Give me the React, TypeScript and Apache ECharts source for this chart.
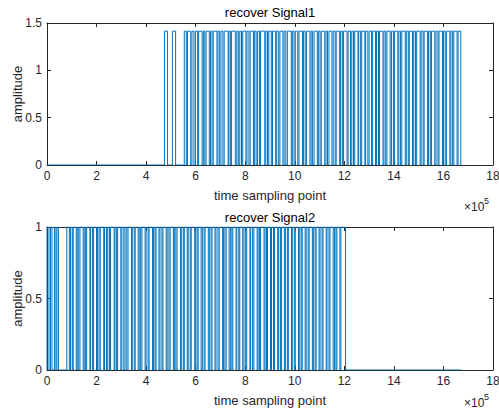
import React, { useEffect, useRef } from "react";
import * as echarts from "echarts";

// x positions in units of 1e5 samples; each pair = [rise, fall] of a high pulse
const signal1Pulses: number[][] = [
  [4.74, 4.86], [5.06, 5.19], [5.54, 5.62], [5.67, 5.80], [5.85, 5.93], [5.99, 6.08],
  [6.12, 6.26], [6.31, 6.37], [6.42, 6.55], [6.60, 6.66], [6.71, 6.86], [6.90, 6.97],
  [7.02, 7.10], [7.15, 7.31], [7.34, 7.40], [7.45, 7.60], [7.66, 7.72], [7.78, 7.85],
  [7.90, 8.03], [8.07, 8.15], [8.20, 8.33], [8.37, 8.44], [8.50, 8.58], [8.62, 8.79],
  [8.83, 8.90], [8.95, 9.05], [9.10, 9.23], [9.27, 9.35], [9.40, 9.52], [9.57, 9.64],
  [9.70, 9.86], [9.90, 9.97], [10.02, 10.12], [10.17, 10.31], [10.35, 10.42], [10.47, 10.61],
  [10.66, 10.72], [10.78, 10.91], [10.95, 11.02], [11.07, 11.21], [11.26, 11.32], [11.38, 11.50],
  [11.55, 11.63], [11.67, 11.81], [11.85, 11.92], [11.97, 12.11], [12.15, 12.25], [12.30, 12.37],
  [12.42, 12.55], [12.58, 12.66], [12.70, 12.83], [12.86, 12.95], [13.00, 13.10], [13.14, 13.26],
  [13.30, 13.38], [13.42, 13.56], [13.60, 13.67], [13.72, 13.85], [13.90, 13.98], [14.03, 14.16],
  [14.20, 14.27], [14.32, 14.46], [14.50, 14.58], [14.62, 14.75], [14.80, 14.87], [14.92, 15.06],
  [15.10, 15.18], [15.22, 15.36], [15.40, 15.47], [15.52, 15.65], [15.70, 15.78], [15.82, 15.96],
  [16.00, 16.07], [16.12, 16.26], [16.30, 16.37], [16.42, 16.55], [16.59, 16.70],
];
const signal1Amp = 1.414;
const signal1End = 16.72;

const signal2Pulses: number[][] = [
  [0.0, 0.08], [0.14, 0.2], [0.3, 0.36], [0.4, 0.46], [0.8, 0.9], [0.95, 1.02],
  [1.06, 1.18], [1.22, 1.28], [1.33, 1.46], [1.5, 1.56], [1.6, 1.73], [1.76, 1.84],
  [1.88, 2.0], [2.04, 2.1], [2.15, 2.29], [2.32, 2.4], [2.45, 2.52], [2.56, 2.71],
  [2.74, 2.8], [2.85, 2.98], [3.02, 3.1], [3.15, 3.22], [3.27, 3.41], [3.44, 3.52],
  [3.56, 3.68], [3.72, 3.78], [3.83, 3.96], [4.0, 4.08], [4.12, 4.26], [4.3, 4.36],
  [4.4, 4.52], [4.56, 4.64], [4.68, 4.81], [4.85, 4.92], [4.97, 5.1], [5.14, 5.2],
  [5.25, 5.39], [5.42, 5.5], [5.54, 5.66], [5.7, 5.78], [5.82, 5.96], [6.0, 6.06],
  [6.1, 6.22], [6.27, 6.34], [6.38, 6.51], [6.55, 6.62], [6.66, 6.78], [6.82, 6.9],
  [6.95, 7.09], [7.12, 7.18], [7.23, 7.35], [7.4, 7.46], [7.5, 7.63], [7.66, 7.74],
  [7.78, 7.9], [7.95, 8.02], [8.06, 8.19], [8.22, 8.3], [8.35, 8.48], [8.52, 8.58],
  [8.62, 8.76], [8.8, 8.86], [8.9, 9.02], [9.06, 9.14], [9.18, 9.31], [9.35, 9.42],
  [9.46, 9.58], [9.62, 9.7], [9.74, 9.87], [9.9, 9.98], [10.02, 10.15], [10.2, 10.26],
  [10.3, 10.42], [10.46, 10.54], [10.58, 10.71], [10.75, 10.82], [10.86, 10.98], [11.02, 11.1],
  [11.14, 11.27], [11.3, 11.38], [11.42, 11.55], [11.6, 11.66], [11.7, 11.82], [11.86, 12.05],
];
const signal2Amp = 1;
const signal2End = 16.72;

const xTicks = [0, 2, 4, 6, 8, 10, 12, 14, 16, 18];
const y1Ticks = [0, 0.5, 1, 1.5];
const y2Ticks = [0, 0.5, 1];

function buildLine(pulses: number[][], amp: number, end: number): number[][] {
  const pts: number[][] = [];
  if (pulses.length === 0 || pulses[0][0] > 0) pts.push([0, 0]);
  for (const [a, b] of pulses) {
    pts.push([a, 0], [a, amp], [b, amp], [b, 0]);
  }
  pts.push([end, 0]);
  return pts;
}

const AX = "#262626";
const FONT = "'Liberation Sans', Arial, Helvetica, sans-serif";
const LINE = "#0072BD";

export default function App() {
  const ref = useRef<HTMLDivElement>(null);
  useEffect(() => {
    if (!ref.current) return;
    const chart = echarts.init(ref.current, undefined, { renderer: "svg" });
    const grids = [
      { left: 47, top: 23, width: 446, height: 142, containLabel: false, outerBoundsMode: "none" },
      { left: 47, top: 227, width: 446, height: 143, containLabel: false, outerBoundsMode: "none" },
    ];
    const mkX = (gi: number, pos: "bottom" | "top") => ({
      type: "value",
      gridIndex: gi,
      position: pos,
      min: xTicks[0],
      max: xTicks[xTicks.length - 1],
      interval: 2,
      name: pos === "bottom" ? "time sampling point" : "",
      nameLocation: "middle",
      nameGap: 24,
      nameTextStyle: { color: AX, fontSize: 13, fontFamily: FONT },
      axisLine: { show: true, onZero: false, lineStyle: { color: AX, width: 1 } },
      axisTick: { show: true, inside: true, length: 4, lineStyle: { color: AX } },
      axisLabel: {
        show: pos === "bottom",
        color: AX,
        fontSize: 12,
        fontFamily: FONT,
        margin: 5,
      },
      splitLine: { show: false },
    });
    const mkY = (gi: number, pos: "left" | "right", max: number) => ({
      type: "value",
      gridIndex: gi,
      position: pos,
      min: 0,
      max,
      interval: 0.5,
      name: pos === "left" ? "amplitude" : "",
      nameLocation: "middle",
      nameGap: 23,
      nameMoveOverlap: false,
      nameTextStyle: { color: AX, fontSize: 13, fontFamily: FONT },
      axisLine: { show: true, onZero: false, lineStyle: { color: AX, width: 1 } },
      axisTick: { show: true, inside: true, length: 4, lineStyle: { color: AX } },
      axisLabel: {
        show: pos === "left",
        color: AX,
        fontSize: 12,
        fontFamily: FONT,
        margin: 5,
      },
      splitLine: { show: false },
    });
    chart.setOption({
      animation: false,
      backgroundColor: "#ffffff",
      grid: grids,
      xAxis: [mkX(0, "bottom"), mkX(0, "top"), mkX(1, "bottom"), mkX(1, "top")],
      yAxis: [
        mkY(0, "left", y1Ticks[y1Ticks.length - 1]),
        mkY(0, "right", y1Ticks[y1Ticks.length - 1]),
        mkY(1, "left", y2Ticks[y2Ticks.length - 1]),
        mkY(1, "right", y2Ticks[y2Ticks.length - 1]),
      ],
      series: [
        {
          type: "line",
          xAxisIndex: 0,
          yAxisIndex: 0,
          data: buildLine(signal1Pulses, signal1Amp, signal1End),
          showSymbol: false,
          lineStyle: { color: LINE, width: 1 },
          silent: true,
        },
        {
          type: "line",
          xAxisIndex: 2,
          yAxisIndex: 2,
          data: buildLine(signal2Pulses, signal2Amp, signal2End),
          showSymbol: false,
          lineStyle: { color: LINE, width: 1 },
          silent: true,
        },
      ],
      graphic: [
        { type: "text", x: 270, y: 6, style: { text: "recover Signal1", fill: "#000", fontSize: 13, fontFamily: FONT, align: "center", textAlign: "center" } },
        { type: "text", x: 270, y: 211, style: { text: "recover Signal2", fill: "#000", fontSize: 13, fontFamily: FONT, align: "center", textAlign: "center" } },
        { type: "text", x: 464, y: 201, style: { text: "×10", fill: AX, fontSize: 12, fontFamily: FONT } },
        { type: "text", x: 484, y: 196, style: { text: "5", fill: AX, fontSize: 9, fontFamily: FONT } },
        { type: "text", x: 464, y: 397, style: { text: "×10", fill: AX, fontSize: 12, fontFamily: FONT } },
        { type: "text", x: 484, y: 392, style: { text: "5", fill: AX, fontSize: 9, fontFamily: FONT } },
      ],
    });
    return () => chart.dispose();
  }, []);
  return (
    <div
      ref={ref}
      style={{ position: "fixed", left: 0, top: 0, width: 499, height: 411, background: "#fff" }}
    />
  );
}
